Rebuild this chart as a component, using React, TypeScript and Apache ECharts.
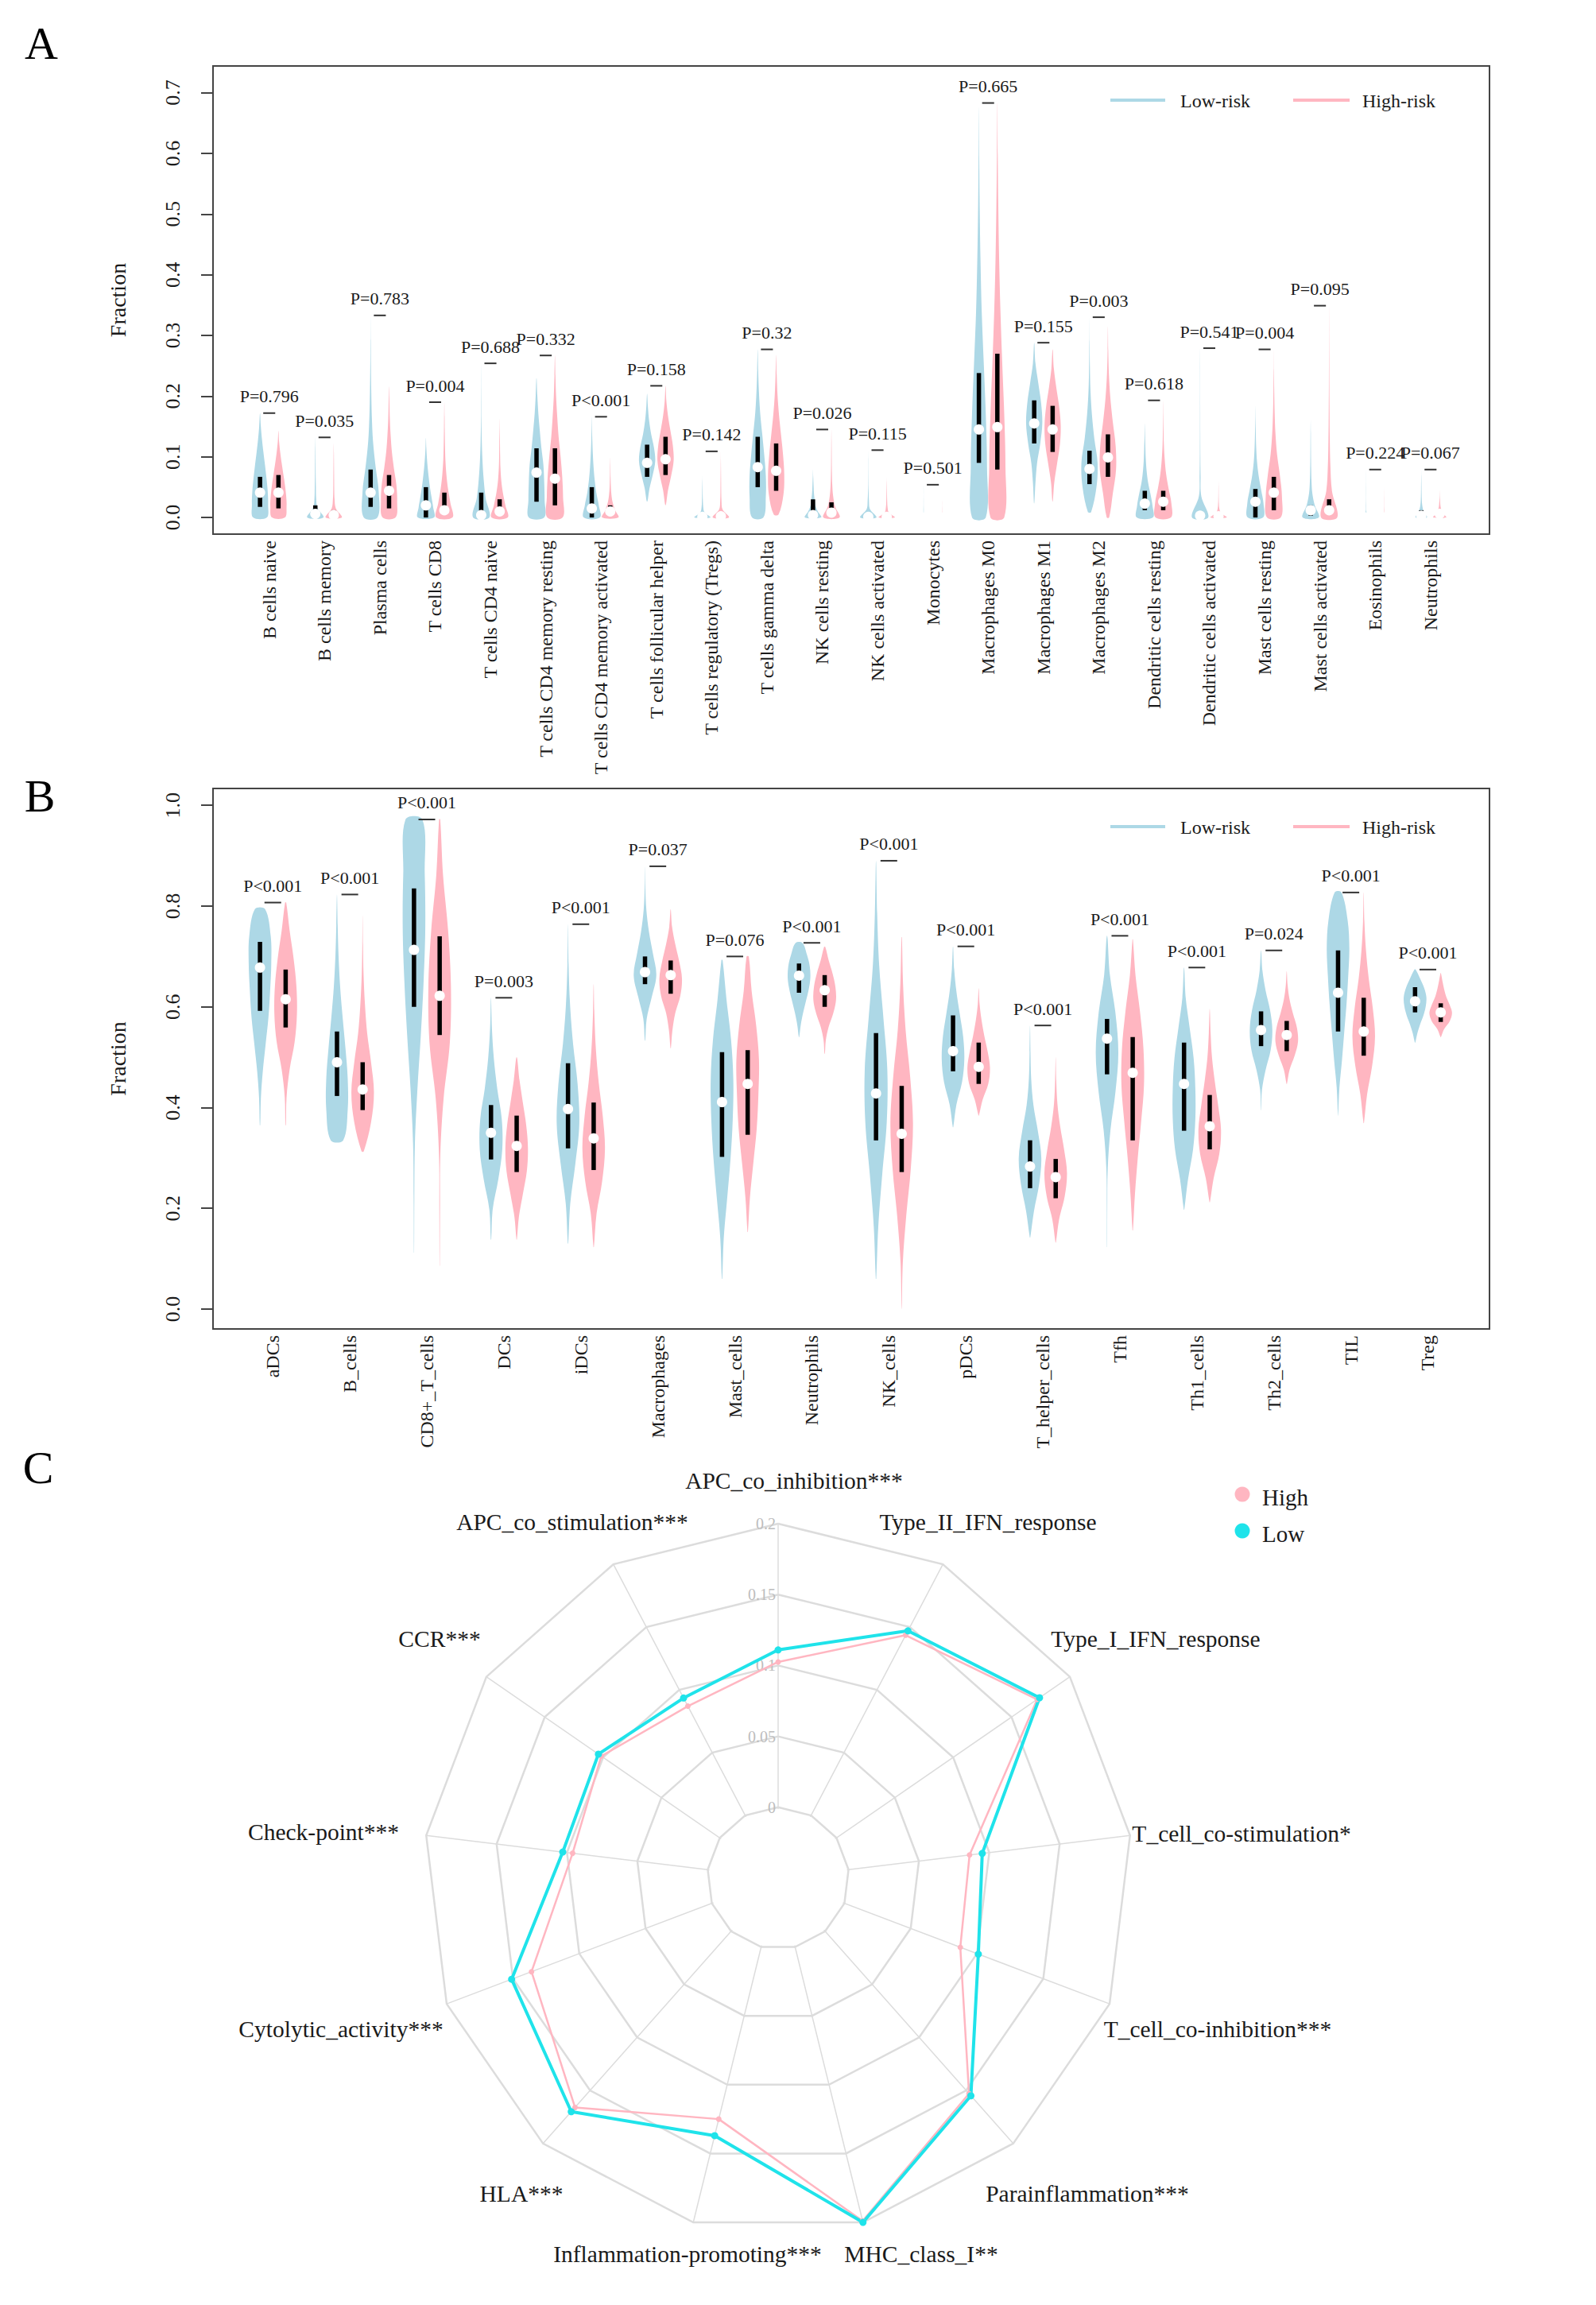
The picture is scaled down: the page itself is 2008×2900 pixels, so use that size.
import React, { useEffect, useRef } from "react";
import * as echarts from "echarts";

const FONT = '"Liberation Serif", "Times New Roman", serif';
const BLUE = "#ADD8E6";
const PINK = "#FFB6C1";
const CYAN = "#1FE3EA";
const TEXT = "#1a1a1a";

// ---------------- Panel A data ----------------
const cellsA = [
  "B cells naive", "B cells memory", "Plasma cells", "T cells CD8", "T cells CD4 naive",
  "T cells CD4 memory resting", "T cells CD4 memory activated", "T cells follicular helper",
  "T cells regulatory (Tregs)", "T cells gamma delta", "NK cells resting", "NK cells activated",
  "Monocytes", "Macrophages M0", "Macrophages M1", "Macrophages M2", "Dendritic cells resting",
  "Dendritic cells activated", "Mast cells resting", "Mast cells activated", "Eosinophils", "Neutrophils",
];
const pA = [
  "P=0.796", "P=0.035", "P=0.783", "P=0.004", "P=0.688", "P=0.332", "P<0.001", "P=0.158",
  "P=0.142", "P=0.32", "P=0.026", "P=0.115", "P=0.501", "P=0.665", "P=0.155", "P=0.003",
  "P=0.618", "P=0.541", "P=0.004", "P=0.095", "P=0.224", "P=0.067",
];
// [min, q1, median, q3, max]
const lowStatsA = [
  [0, 0.0175, 0.041, 0.067, 0.172], [0, 0.002, 0.006, 0.02, 0.132], [0, 0.0175, 0.041, 0.079, 0.333],
  [0, 0, 0.02, 0.05, 0.131], [0, 0, 0.004, 0.041, 0.254], [0, 0.026, 0.074, 0.114, 0.23],
  [0, 0, 0.015, 0.05, 0.166], [0.026, 0.067, 0.09, 0.12, 0.204], [0, 0, 0.001, 0.004, 0.07],
  [0, 0.05, 0.083, 0.133, 0.277], [0, 0, 0.004, 0.03, 0.079], [0, 0, 0.001, 0.003, 0.111],
  [0, 0, 0, 0, 0.054], [0, 0.09, 0.145, 0.238, 0.677], [0.023, 0.122, 0.155, 0.193, 0.288],
  [0.009, 0.055, 0.08, 0.11, 0.33], [0, 0.012, 0.023, 0.044, 0.155], [0, 0, 0.003, 0.006, 0.279],
  [0, 0, 0.026, 0.047, 0.184], [0, 0.003, 0.012, 0.02, 0.16], [0, 0, 0, 0, 0.079],
  [0, 0.001, 0.003, 0.012, 0.079],
];
const highStatsA = [
  [0, 0.015, 0.041, 0.07, 0.143], [0, 0.001, 0.004, 0.012, 0.122], [0, 0.015, 0.044, 0.07, 0.216],
  [0, 0.009, 0.012, 0.041, 0.19], [0, 0.006, 0.01, 0.03, 0.163], [0, 0.02, 0.064, 0.114, 0.267],
  [0, 0.006, 0.01, 0.02, 0.099], [0.02, 0.07, 0.096, 0.133, 0.217], [0, 0, 0.002, 0.006, 0.109],
  [0.005, 0.044, 0.077, 0.122, 0.268], [0, 0.005, 0.008, 0.025, 0.145], [0, 0, 0.001, 0.003, 0.067],
  [0, 0, 0, 0, 0.03], [0, 0.079, 0.149, 0.27, 0.683], [0.026, 0.108, 0.145, 0.184, 0.277],
  [0, 0.067, 0.099, 0.137, 0.315], [0, 0.012, 0.026, 0.044, 0.193], [0, 0, 0.002, 0.005, 0.06],
  [0, 0.012, 0.041, 0.067, 0.277], [0, 0.006, 0.012, 0.03, 0.349], [0, 0, 0, 0, 0.05],
  [0, 0.003, 0.006, 0.012, 0.045],
];
// relative half-widths at 9 evenly spaced levels from min to max
const lowShapeA = [
  [0.85, 1.0, 0.95, 0.8, 0.62, 0.42, 0.24, 0.1, 0], [1.0, 0.25, 0.1, 0.07, 0.05, 0.04, 0.03, 0.02, 0],
  [0.85, 1.0, 0.62, 0.3, 0.15, 0.08, 0.04, 0.02, 0], [1.0, 0.9, 0.7, 0.5, 0.35, 0.22, 0.12, 0.05, 0],
  [1.0, 0.55, 0.3, 0.15, 0.07, 0.03, 0.02, 0.01, 0], [0.95, 1.0, 0.95, 0.85, 0.6, 0.4, 0.22, 0.1, 0],
  [1.0, 0.85, 0.55, 0.35, 0.22, 0.13, 0.07, 0.03, 0], [0, 0.3, 0.7, 1.0, 0.85, 0.5, 0.25, 0.1, 0],
  [1.0, 0.25, 0.1, 0.06, 0.04, 0.03, 0.02, 0.01, 0], [0.7, 1.0, 1.0, 0.8, 0.55, 0.3, 0.15, 0.06, 0],
  [1.0, 0.6, 0.3, 0.2, 0.12, 0.08, 0.05, 0.02, 0], [1.0, 0.2, 0.08, 0.04, 0.02, 0.015, 0.01, 0.01, 0],
  [0.25, 0.04, 0.02, 0.01, 0.01, 0.005, 0.005, 0.005, 0], [0.85, 1.0, 0.85, 0.6, 0.35, 0.2, 0.1, 0.04, 0],
  [0, 0.15, 0.35, 0.75, 1.0, 0.85, 0.5, 0.15, 0], [0.2, 0.85, 1.0, 0.6, 0.3, 0.12, 0.05, 0.02, 0],
  [1.0, 0.95, 0.7, 0.4, 0.22, 0.12, 0.07, 0.03, 0], [1.0, 0.15, 0.06, 0.03, 0.02, 0.015, 0.01, 0.01, 0],
  [0.95, 1.0, 0.7, 0.4, 0.2, 0.1, 0.05, 0.02, 0], [1.0, 0.5, 0.2, 0.1, 0.06, 0.04, 0.03, 0.02, 0],
  [0.25, 0.04, 0.02, 0.01, 0.01, 0.01, 0.005, 0.005, 0], [0.7, 0.3, 0.12, 0.06, 0.04, 0.03, 0.02, 0.01, 0],
];
const highShapeA = [
  [0.8, 1.0, 0.95, 0.8, 0.6, 0.4, 0.22, 0.08, 0], [1.0, 0.25, 0.1, 0.06, 0.05, 0.04, 0.03, 0.02, 0],
  [0.8, 1.0, 0.9, 0.6, 0.35, 0.2, 0.1, 0.05, 0], [1.0, 0.75, 0.45, 0.25, 0.13, 0.08, 0.05, 0.03, 0],
  [1.0, 0.7, 0.4, 0.2, 0.1, 0.06, 0.04, 0.02, 0], [0.95, 1.0, 0.9, 0.7, 0.45, 0.28, 0.14, 0.06, 0],
  [1.0, 0.6, 0.3, 0.15, 0.08, 0.05, 0.03, 0.02, 0], [0, 0.3, 0.7, 1.0, 0.9, 0.6, 0.3, 0.1, 0],
  [1.0, 0.2, 0.08, 0.05, 0.04, 0.03, 0.02, 0.01, 0], [0.3, 0.9, 1.0, 0.85, 0.6, 0.35, 0.17, 0.07, 0],
  [1.0, 0.45, 0.2, 0.1, 0.06, 0.04, 0.03, 0.02, 0], [1.0, 0.25, 0.1, 0.06, 0.04, 0.03, 0.02, 0.01, 0],
  [0.25, 0.04, 0.02, 0.01, 0.01, 0.005, 0.005, 0.005, 0], [0.85, 1.0, 0.85, 0.6, 0.38, 0.22, 0.12, 0.05, 0],
  [0, 0.2, 0.55, 0.9, 1.0, 0.8, 0.45, 0.15, 0], [0.15, 0.6, 1.0, 0.95, 0.6, 0.3, 0.12, 0.04, 0],
  [0.95, 1.0, 0.65, 0.35, 0.18, 0.08, 0.04, 0.02, 0], [1.0, 0.3, 0.1, 0.05, 0.03, 0.02, 0.015, 0.01, 0],
  [0.85, 1.0, 0.75, 0.4, 0.2, 0.1, 0.05, 0.02, 0], [1.0, 0.35, 0.15, 0.08, 0.05, 0.03, 0.02, 0.01, 0],
  [0.25, 0.04, 0.02, 0.01, 0.01, 0.01, 0.005, 0.005, 0], [0.8, 0.5, 0.25, 0.12, 0.07, 0.04, 0.02, 0.01, 0],
];
const yTicksA = [0, 0.1, 0.2, 0.3, 0.4, 0.5, 0.6, 0.7];

// ---------------- Panel B data ----------------
const cellsB = [
  "aDCs", "B_cells", "CD8+_T_cells", "DCs", "iDCs", "Macrophages", "Mast_cells", "Neutrophils",
  "NK_cells", "pDCs", "T_helper_cells", "Tfh", "Th1_cells", "Th2_cells", "TIL", "Treg",
];
const pB = [
  "P<0.001", "P<0.001", "P<0.001", "P=0.003", "P<0.001", "P=0.037", "P=0.076", "P<0.001",
  "P<0.001", "P<0.001", "P<0.001", "P<0.001", "P<0.001", "P=0.024", "P<0.001", "P<0.001",
];
const lowStatsB = [
  [0.365, 0.592, 0.678, 0.729, 0.794], [0.335, 0.423, 0.49, 0.551, 0.823], [0.112, 0.6, 0.713, 0.835, 0.972],
  [0.138, 0.297, 0.35, 0.405, 0.618], [0.13, 0.319, 0.397, 0.488, 0.764], [0.533, 0.645, 0.669, 0.7, 0.879],
  [0.06, 0.302, 0.411, 0.51, 0.693], [0.54, 0.628, 0.662, 0.686, 0.727], [0.06, 0.335, 0.428, 0.548, 0.89],
  [0.361, 0.472, 0.512, 0.583, 0.72], [0.142, 0.24, 0.283, 0.335, 0.563], [0.123, 0.466, 0.537, 0.576, 0.741],
  [0.197, 0.354, 0.447, 0.529, 0.678], [0.395, 0.522, 0.554, 0.591, 0.712], [0.384, 0.551, 0.628, 0.712, 0.827],
  [0.529, 0.589, 0.611, 0.639, 0.674],
];
const highStatsB = [
  [0.365, 0.559, 0.615, 0.674, 0.807], [0.313, 0.395, 0.436, 0.49, 0.782], [0.086, 0.544, 0.622, 0.74, 0.972],
  [0.138, 0.272, 0.324, 0.384, 0.5], [0.123, 0.276, 0.339, 0.41, 0.645], [0.518, 0.626, 0.663, 0.692, 0.794],
  [0.153, 0.346, 0.447, 0.514, 0.7], [0.507, 0.6, 0.633, 0.663, 0.719], [0.0, 0.272, 0.348, 0.443, 0.738],
  [0.384, 0.447, 0.481, 0.529, 0.637], [0.132, 0.22, 0.262, 0.298, 0.5], [0.156, 0.335, 0.469, 0.54, 0.734],
  [0.212, 0.317, 0.363, 0.425, 0.596], [0.447, 0.512, 0.544, 0.572, 0.671], [0.369, 0.503, 0.551, 0.618, 0.827],
  [0.54, 0.57, 0.589, 0.607, 0.667],
];
const lowShapeB = [
  [0.02, 0.08, 0.25, 0.5, 0.75, 0.9, 1.0, 0.95, 0.45], [0.55, 0.95, 0.95, 0.75, 0.5, 0.28, 0.14, 0.06, 0],
  [0.01, 0.03, 0.08, 0.3, 0.6, 0.85, 1.0, 0.95, 0.75], [0.02, 0.15, 0.65, 1.0, 0.95, 0.55, 0.25, 0.08, 0],
  [0.02, 0.2, 0.65, 1.0, 0.85, 0.45, 0.18, 0.05, 0], [0.02, 0.15, 0.6, 1.0, 0.7, 0.35, 0.12, 0.03, 0],
  [0.02, 0.15, 0.45, 0.75, 0.95, 1.0, 0.8, 0.4, 0.05], [0.02, 0.15, 0.35, 0.6, 0.85, 1.0, 0.95, 0.7, 0.3],
  [0.02, 0.2, 0.55, 0.95, 1.0, 0.65, 0.28, 0.1, 0], [0.02, 0.3, 0.8, 1.0, 0.9, 0.6, 0.3, 0.1, 0],
  [0.02, 0.35, 0.8, 1.0, 0.7, 0.3, 0.1, 0.04, 0], [0.01, 0.02, 0.06, 0.3, 0.75, 1.0, 0.75, 0.25, 0],
  [0.02, 0.35, 0.8, 1.0, 1.0, 0.85, 0.5, 0.15, 0], [0.01, 0.08, 0.4, 0.85, 1.0, 0.8, 0.4, 0.12, 0],
  [0.01, 0.12, 0.35, 0.55, 0.75, 0.9, 1.0, 0.85, 0.3], [0.02, 0.2, 0.45, 0.75, 0.95, 1.0, 0.8, 0.45, 0.05],
];
const highShapeB = [
  [0.02, 0.08, 0.35, 0.8, 1.0, 0.95, 0.7, 0.35, 0.05], [0.1, 0.75, 1.0, 0.75, 0.4, 0.2, 0.08, 0.03, 0],
  [0.01, 0.03, 0.06, 0.35, 0.9, 1.0, 0.75, 0.3, 0.05], [0.02, 0.2, 0.55, 0.9, 1.0, 0.85, 0.55, 0.25, 0],
  [0.02, 0.25, 0.75, 1.0, 0.8, 0.45, 0.2, 0.07, 0], [0.02, 0.15, 0.4, 0.85, 1.0, 0.75, 0.4, 0.12, 0],
  [0.02, 0.2, 0.5, 0.8, 0.95, 1.0, 0.75, 0.35, 0.1], [0.02, 0.1, 0.35, 0.75, 1.0, 0.95, 0.7, 0.35, 0.05],
  [0, 0.1, 0.4, 0.8, 1.0, 0.75, 0.35, 0.12, 0.02], [0.02, 0.35, 0.85, 1.0, 0.8, 0.5, 0.25, 0.08, 0],
  [0.02, 0.3, 0.8, 1.0, 0.75, 0.4, 0.15, 0.05, 0], [0.02, 0.2, 0.45, 0.75, 1.0, 0.95, 0.65, 0.25, 0.02],
  [0.02, 0.35, 0.85, 1.0, 0.75, 0.45, 0.2, 0.08, 0], [0.02, 0.25, 0.7, 1.0, 0.9, 0.55, 0.25, 0.08, 0],
  [0.02, 0.3, 0.75, 1.0, 0.8, 0.45, 0.2, 0.06, 0], [0.02, 0.3, 0.8, 1.0, 0.8, 0.5, 0.3, 0.15, 0.02],
];
const yTicksB = [0, 0.2, 0.4, 0.6, 0.8, 1.0];

// ---------------- Panel C data (clockwise from top) ----------------
const radarNames = [
  "APC_co_inhibition***", "Type_II_IFN_response", "Type_I_IFN_response", "T_cell_co-stimulation*",
  "T_cell_co-inhibition***", "Parainflammation***", "MHC_class_I**", "Inflammation-promoting***",
  "HLA***", "Cytolytic_activity***", "Check-point***", "CCR***", "APC_co_stimulation***",
];
const radarHigh = [0.1025, 0.1435, 0.172, 0.086, 0.0874, 0.153, 0.199, 0.125, 0.166, 0.136, 0.096, 0.1015, 0.087];
const radarLow = [0.111, 0.147, 0.174, 0.095, 0.101, 0.155, 0.2, 0.137, 0.17, 0.151, 0.103, 0.104, 0.0935];
const radarTicks = [0, 0.05, 0.1, 0.15, 0.2];
const radarTickLabels = ["0", "0.05", "0.1", "0.15", "0.2"];

// ---------------- layout ----------------
const GA = { left: 268, top: 83, width: 1606, height: 589 };
const GB = { left: 268, top: 992, width: 1606, height: 680 };
const RC = { cx: 979, cy: 2363, r: 446, min: -0.05, max: 0.2 };
const radarLabelPos = [
  [999, 1863], [1243, 1915], [1454, 2062], [1562, 2307], [1532, 2553], [1368, 2760], [1159, 2836],
  [865, 2836], [656, 2760], [429, 2553], [407, 2305], [553, 2062], [720, 1915],
];
const WEX = 0.44;

function violinRender(color: string) {
  return (params: any, api: any) => {
    const x = api.value(0);
    const mn = api.value(1), mx = api.value(2), q1 = api.value(3), md = api.value(4), q3 = api.value(5);
    const n = 9;
    const ws: number[] = [];
    for (let k = 0; k < n; k++) ws.push(api.value(6 + k));
    const hw = api.size([1, 0])[0] * WEX;
    const right: number[][] = [], left: number[][] = [];
    for (let k = 0; k < n; k++) {
      const y = mn + ((mx - mn) * k) / (n - 1);
      const p = api.coord([x, y]);
      right.push([p[0] + ws[k] * hw, p[1]]);
      left.push([p[0] - ws[k] * hw, p[1]]);
    }
    const pts: number[][] = [...right];
    for (let k = n - 1; k >= 0; k--) {
      if ((k === n - 1 || k === 0) && ws[k] === 0) continue;
      pts.push(left[k]);
    }
    const a = api.coord([x, q3]);
    const b = api.coord([x, q1]);
    const m = api.coord([x, md]);
    const boxW = 5.5;
    return {
      type: "group",
      children: [
        { type: "polygon", shape: { points: pts, smooth: 0.35 }, style: { fill: color } },
        { type: "rect", shape: { x: a[0] - boxW / 2, y: a[1], width: boxW, height: Math.max(b[1] - a[1], 0) }, style: { fill: "#000" } },
        { type: "circle", shape: { cx: m[0], cy: m[1], r: 6.5 }, style: { fill: "#fff" } },
      ],
    };
  };
}

function violinSeries(name: string, idx: number, stats: number[][], shapes: number[][], offset: number, color: string) {
  return {
    type: "custom",
    name,
    xAxisIndex: idx,
    yAxisIndex: idx,
    renderItem: violinRender(color),
    data: stats.map((s, i) => [3 * i + offset, s[0], s[4], s[1], s[2], s[3], ...shapes[i]]),
    encode: { x: 0, y: [1, 2] },
    clip: false,
    silent: true,
    z: 3,
  };
}

function pSeries(idx: number, low: number[][], high: number[][], labels: string[]) {
  return {
    type: "custom",
    xAxisIndex: idx,
    yAxisIndex: idx,
    data: labels.map((_, i) => [3 * i + 0.5, Math.max(low[i][4], high[i][4])]),
    encode: { x: 0, y: 1 },
    clip: false,
    silent: true,
    z: 4,
    renderItem: (params: any, api: any) => {
      const p = api.coord([api.value(0), api.value(1)]);
      const dw = api.size([0.65, 0])[0];
      return {
        type: "group",
        children: [
          { type: "line", shape: { x1: p[0] - dw / 2, y1: p[1], x2: p[0] + dw / 2, y2: p[1] }, style: { stroke: "#333", lineWidth: 2 } },
          {
            type: "text", x: p[0], y: p[1] - 21,
            style: { text: labels[params.dataIndex], fill: TEXT, fontSize: 22, fontFamily: FONT, align: "center", verticalAlign: "middle" },
          },
        ],
      };
    },
  };
}

function xAxisFor(idx: number, min: number, max: number, names: string[]) {
  return {
    gridIndex: idx, type: "value", min, max,
    axisLine: { show: false, onZero: false }, axisTick: { show: false }, splitLine: { show: false },
    axisLabel: {
      customValues: names.map((_, i) => 3 * i + 0.5),
      formatter: (v: number) => names[Math.round((v - 0.5) / 3)] ?? "",
      rotate: 90, margin: 8, fontSize: 24, fontFamily: FONT, color: TEXT,
    },
  };
}

function yAxisFor(idx: number, min: number, max: number, ticks: number[]) {
  return {
    gridIndex: idx, type: "value", min, max,
    axisLine: { show: true, onZero: false, lineStyle: { color: "#444", width: 2 } },
    axisTick: { show: true, customValues: ticks, length: 15, lineStyle: { color: "#444", width: 2 } },
    axisLabel: { customValues: ticks, formatter: (v: number) => v.toFixed(1), rotate: 90, margin: 38, fontSize: 26, fontFamily: FONT, color: TEXT },
    splitLine: { show: false },
    name: "Fraction", nameLocation: "middle", nameRotate: 90, nameGap: 106,
    nameTextStyle: { fontSize: 28, fontFamily: FONT, color: TEXT },
  };
}

function legendGraphics(y: number) {
  return [
    { type: "line", shape: { x1: 1397, y1: y, x2: 1466, y2: y }, style: { stroke: BLUE, lineWidth: 4 } },
    { type: "text", x: 1485, y: y + 1, style: { text: "Low-risk", fill: TEXT, fontSize: 24, fontFamily: FONT, align: "left", verticalAlign: "middle" } },
    { type: "line", shape: { x1: 1627, y1: y, x2: 1698, y2: y }, style: { stroke: PINK, lineWidth: 4 } },
    { type: "text", x: 1714, y: y + 1, style: { text: "High-risk", fill: TEXT, fontSize: 24, fontFamily: FONT, align: "left", verticalAlign: "middle" } },
  ];
}

function buildOption() {
  // radar: ECharts lays indicators counter-clockwise, so reverse all but the first
  const order = [0, ...radarNames.map((_, i) => i).slice(1).reverse()];
  const n = radarNames.length;
  const rOf = (v: number) => ((v - RC.min) / (RC.max - RC.min)) * RC.r;
  const rIn = rOf(0) - 2;
  const holePts = radarNames.map((_, k) => {
    const ang = Math.PI / 2 - (k * 2 * Math.PI) / n;
    return [RC.cx + rIn * Math.cos(ang), RC.cy - rIn * Math.sin(ang)];
  });

  const graphics: any[] = [
    { type: "text", x: 52, y: 54, style: { text: "A", fill: "#000", fontSize: 58, fontFamily: FONT, align: "center", verticalAlign: "middle" } },
    { type: "text", x: 50, y: 1001, style: { text: "B", fill: "#000", fontSize: 58, fontFamily: FONT, align: "center", verticalAlign: "middle" } },
    { type: "text", x: 48, y: 1846, style: { text: "C", fill: "#000", fontSize: 58, fontFamily: FONT, align: "center", verticalAlign: "middle" } },
    ...legendGraphics(126),
    ...legendGraphics(1040),
    { type: "polygon", z: 10, shape: { points: holePts }, style: { fill: "#fff" } },
    ...radarTicks.map((v, i) => ({
      type: "text", z: 11, x: 976, y: RC.cy - rOf(v),
      style: { text: radarTickLabels[i], fill: "#BDBDBD", fontSize: 20, fontFamily: FONT, align: "right", verticalAlign: "middle" },
    })),
    ...radarNames.map((nm, i) => ({
      type: "text", x: radarLabelPos[i][0], y: radarLabelPos[i][1],
      style: { text: nm, fill: TEXT, fontSize: 29.5, fontFamily: FONT, align: "center", verticalAlign: "middle" },
    })),
    { type: "circle", shape: { cx: 1563, cy: 1880, r: 9.5 }, style: { fill: PINK } },
    { type: "text", x: 1588, y: 1884, style: { text: "High", fill: TEXT, fontSize: 29, fontFamily: FONT, align: "left", verticalAlign: "middle" } },
    { type: "circle", shape: { cx: 1563, cy: 1926, r: 9.5 }, style: { fill: CYAN } },
    { type: "text", x: 1588, y: 1930, style: { text: "Low", fill: TEXT, fontSize: 29, fontFamily: FONT, align: "left", verticalAlign: "middle" } },
  ];

  return {
    animation: false,
    backgroundColor: "#fff",
    grid: [
      { ...GA, show: true, borderColor: "#444", borderWidth: 2, backgroundColor: "transparent" },
      { ...GB, show: true, borderColor: "#444", borderWidth: 2, backgroundColor: "transparent" },
    ],
    xAxis: [xAxisFor(0, -2.55, 66.7, cellsA), xAxisFor(1, -1.83, 47.9, cellsB)],
    yAxis: [yAxisFor(0, -0.0274, 0.744, yTicksA), yAxisFor(1, -0.0395, 1.0335, yTicksB)],
    radar: {
      center: [RC.cx, RC.cy],
      radius: RC.r,
      startAngle: 90,
      splitNumber: 5,
      shape: "polygon",
      indicator: order.map((i) => ({ name: radarNames[i], min: RC.min, max: RC.max })),
      axisName: { show: false },
      axisLine: { lineStyle: { color: "#DCDCDC", width: 1.5 } },
      splitLine: { lineStyle: { color: "#DCDCDC", width: 2.5 } },
      splitArea: { show: false },
      axisTick: { show: false },
      axisLabel: { show: false },
    },
    graphic: { elements: graphics },
    series: [
      violinSeries("Low-risk", 0, lowStatsA, lowShapeA, 0, BLUE),
      violinSeries("High-risk", 0, highStatsA, highShapeA, 1, PINK),
      pSeries(0, lowStatsA, highStatsA, pA),
      violinSeries("Low-risk", 1, lowStatsB, lowShapeB, 0, BLUE),
      violinSeries("High-risk", 1, highStatsB, highShapeB, 1, PINK),
      pSeries(1, lowStatsB, highStatsB, pB),
      {
        type: "radar",
        z: 20,
        symbol: "circle",
        data: [
          {
            name: "High", value: order.map((i) => radarHigh[i]), symbolSize: 7,
            lineStyle: { color: PINK, width: 2.5 }, itemStyle: { color: PINK },
          },
          {
            name: "Low", value: order.map((i) => radarLow[i]), symbolSize: 9,
            lineStyle: { color: CYAN, width: 4 }, itemStyle: { color: CYAN },
          },
        ],
      },
    ],
  };
}

export default function App() {
  const ref = useRef<HTMLDivElement>(null);
  useEffect(() => {
    if (!ref.current) return;
    const chart = echarts.init(ref.current, null, { renderer: "svg" });
    chart.setOption(buildOption() as any);
    return () => chart.dispose();
  }, []);
  return (
    <div
      ref={ref}
      style={{ position: "absolute", left: 0, top: 0, width: 2008, height: 2900, background: "#fff" }}
    />
  );
}
